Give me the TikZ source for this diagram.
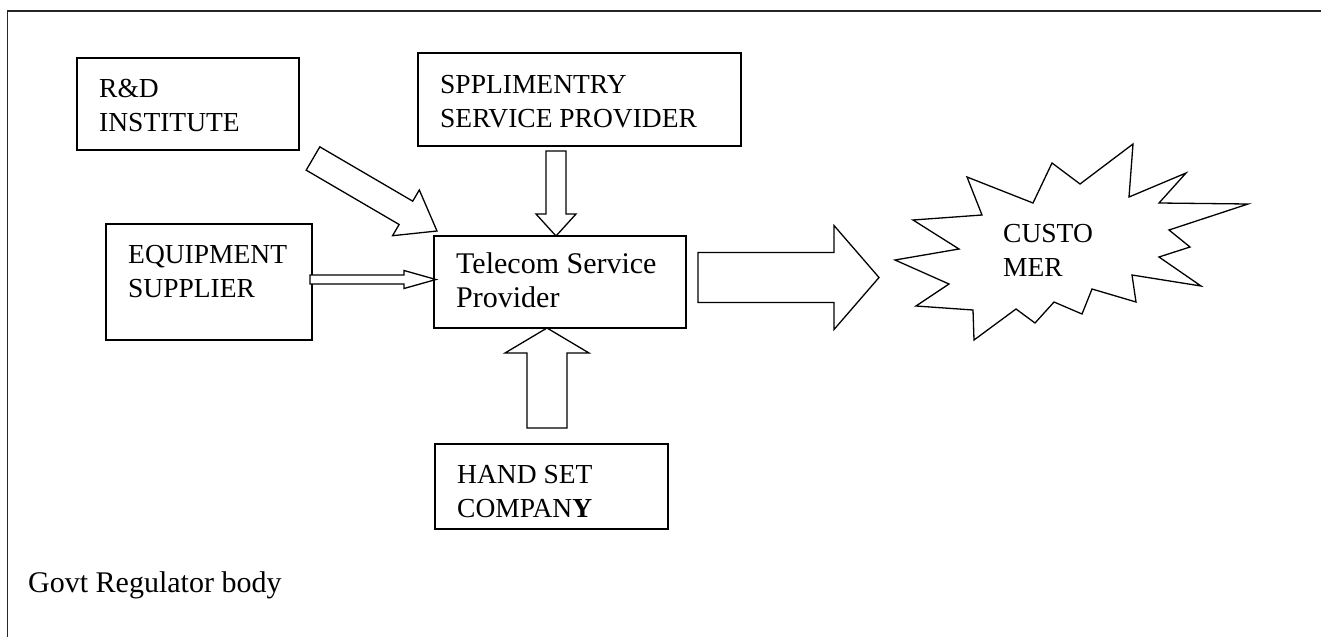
\documentclass[tikz,border=0pt]{standalone}
\usepackage{fontspec}
\setmainfont{Liberation Serif}
\usetikzlibrary{calc}
\newcommand\blkarrow[5]{%
  \coordinate (bah) at ($(#2)!#5!(#1)$);
  \draw[blockarr] ($(#1)!#3!90:(#2)$) -- ($(bah)!#3!90:(#2)$) -- ($(bah)!#4!90:(#2)$)
    -- (#2) -- ($(bah)!#4!-90:(#2)$) -- ($(bah)!#3!-90:(#2)$) -- ($(#1)!#3!-90:(#2)$) -- cycle;
}
\newcommand\twolines[2]{\begin{tabular}[t]{@{}l@{}}#1\\#2\end{tabular}}
\begin{document}
\begin{tikzpicture}[x=1pt,y=-1pt,
  box/.style={draw, line width=1.5pt, inner sep=0pt, outer sep=0pt},
  capstxt/.style={inner sep=0pt, anchor=base west, font=\fontsize{27.5}{34}\selectfont},
  mixtxt/.style={inner sep=0pt, anchor=base west, font=\fontsize{30}{34}\selectfont},
  blockarr/.style={draw, line width=1.3pt, line join=miter, fill=white},
  frameline/.style={draw, line width=1.6pt, black!85}]
\useasboundingbox (0,0) rectangle (1321,637);
\draw[frameline] (7.5,637) -- (7.5,11) -- (1321,11);

% boxes
\node[box, minimum width=222pt, minimum height=92pt] (rd) at (188,104) {};
\node[box, minimum width=206pt, minimum height=116pt] (eq) at (209,282) {};
\node[box, minimum width=323pt, minimum height=93pt] (sp) at (579.5,99.5) {};
\node[box, minimum width=252pt, minimum height=92pt] (tsp) at (560,282) {};
\node[box, minimum width=233pt, minimum height=85pt] (hs) at (551.5,486.5) {};

% texts
\node[capstxt] (rdT) at (99,97) {\twolines{R\&D}{INSTITUTE}};
\node[capstxt] (eqT) at (128,263) {\twolines{EQUIPMENT}{SUPPLIER}};
\node[capstxt] (spT) at (440,93) {\twolines{SPPLIMENTRY}{SERVICE PROVIDER}};
\node[mixtxt] (tspT) at (456,273) {\twolines{Telecom Service}{Provider}};
\node[capstxt] (hsT) at (457,483) {\twolines{HAND SET}{COMPAN\textbf{Y}}};
\node[mixtxt] (govT) at (28,592) {Govt Regulator body};

% customer starburst
\draw[line width=1.3pt, line join=miter]
  (895,260) coordinate (sbL) -- (959,249) -- (913,220) -- (982,215) -- (967,177) -- (1033,203)
  -- (1052,163) -- (1080,184) -- (1133,144) -- (1129,197) -- (1186,173) -- (1159,203)
  -- (1248,204) -- (1169,230) -- (1190,247) -- (1159,257) -- (1201,286) -- (1132,275)
  -- (1136,302) -- (1092,289) -- (1082,314) -- (1054,302) -- (1035,323) -- (1016,309)
  -- (974,340) -- (973,310) -- (916,306) -- (949,284) -- cycle;
\node[capstxt] (cust) at (1003,242) {\twolines{CUSTO}{MER}};

% block arrows
\coordinate (eqS) at ($(eq.east)+(-2,-2.5)$);
\coordinate (eqE) at ($(tsp.west)+(2,-2.5)$);
\blkarrow{eqS}{eqE}{4.5pt}{9pt}{32pt}

\coordinate (rdS) at ($(rd.south east)+(14,8.5)$);
\coordinate (rdE) at ($(tsp.north west)+(3,-5)$);
\blkarrow{rdS}{rdE}{13.5pt}{26.5pt}{36pt}

\coordinate (spE) at ($(tsp.north)+(-4,0)$);
\coordinate (spS) at ($(spE |- sp.south)+(0,5)$);
\blkarrow{spS}{spE}{10pt}{20pt}{22pt}

\coordinate (hsE) at ($(tsp.south)+(-13,0)$);
\coordinate (hsS) at ($(hsE |- hs.north)+(0,-16)$);
\blkarrow{hsS}{hsE}{20pt}{42pt}{25pt}

\coordinate (tsS) at ($(tsp.east)+(12,-4.5)$);
\coordinate (tsE) at ($(sbL |- tsS)+(-16,0)$);
\blkarrow{tsS}{tsE}{25pt}{52pt}{45pt}
\end{tikzpicture}
\end{document}
